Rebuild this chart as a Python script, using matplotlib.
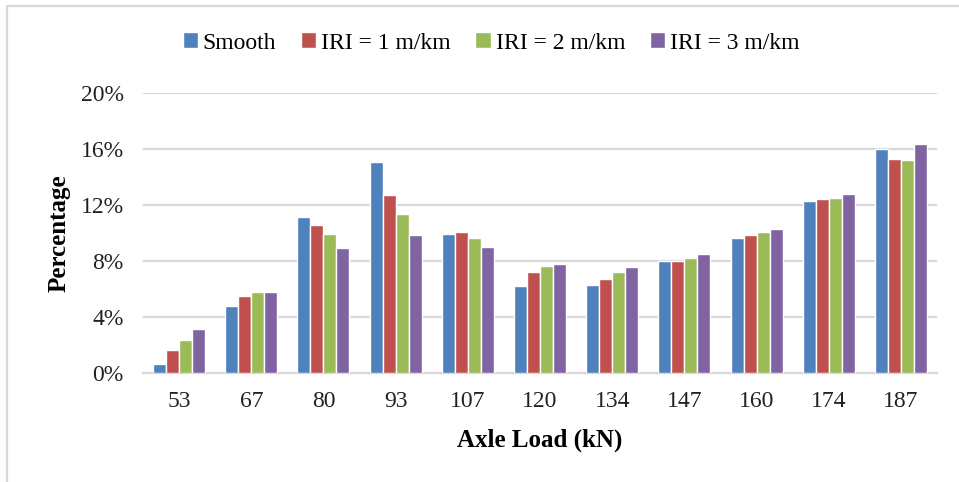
import matplotlib.pyplot as plt
import numpy as np
from matplotlib.patches import Rectangle
from matplotlib.ticker import FuncFormatter

# carichi per asse (kN)
loads = ["53", "67", "80", "93", "107", "120", "134", "147", "160", "174", "187"]

# percentuali
smooth = [0.64, 4.77, 11.12, 15.04, 9.90, 6.23, 6.28, 8.00, 9.64, 12.32, 16.01]
iri1 = [1.62, 5.49, 10.55, 12.70, 10.05, 7.18, 6.75, 8.00, 9.86, 12.43, 15.32]
iri2 = [2.34, 5.82, 9.93, 11.34, 9.67, 7.64, 7.21, 8.21, 10.10, 12.48, 15.23]
iri3 = [3.17, 5.78, 8.90, 9.83, 8.97, 7.78, 7.54, 8.47, 10.26, 12.82, 16.37]

series = [smooth, iri1, iri2, iri3]
labels = ["Smooth", "IRI = 1 m/km", "IRI = 2 m/km", "IRI = 3 m/km"]
colors = ["#4F81BD", "#C0504D", "#9BBB59", "#8064A2"]

plt.rcParams['font.family'] = ['Liberation Serif', 'DejaVu Serif']

fig = plt.figure(figsize=(9.59, 4.82), dpi=100)
W, H = 959, 482
ax = fig.add_axes([143 / W, 1 - 373 / H, (937 - 143) / W, (373 - 93) / H])

x = np.arange(len(loads))
pitch = 0.18
for i, (vals, lab, col) in enumerate(zip(series, labels, colors)):
    ax.bar(x + (i - 1.5) * pitch, vals, width=pitch, color=col,
           edgecolor="white", linewidth=1.0, label=lab, zorder=3)

ax.set_xlim(-0.5, len(loads) - 0.5)
ax.set_ylim(0, 20)
ax.set_yticks([0, 4, 8, 12, 16, 20])
ax.yaxis.set_major_formatter(FuncFormatter(lambda v, p: f"{v:.0f}%"))
ax.set_xticks(x)
ax.set_xticklabels(loads)
ax.tick_params(axis="both", length=0, labelsize=17, colors="#222222")
ax.tick_params(axis="x", pad=13)
ax.tick_params(axis="y", pad=14)

ax.grid(axis="y", color="#d9d9d9", linewidth=1.6, zorder=0)
for s in ["top", "right", "left"]:
    ax.spines[s].set_visible(False)
ax.spines["bottom"].set_color("#d9d9d9")
ax.spines["bottom"].set_linewidth(1.6)

ax.set_ylabel("Percentage", fontsize=18, fontweight="bold", labelpad=7)
ax.set_xlabel("Axle Load (kN)", fontsize=18, fontweight="bold", labelpad=12)

fig.legend(loc="center", bbox_to_anchor=(491 / W, 1 - 43 / H), ncol=4, frameon=False,
           fontsize=17, handlelength=0.65, handleheight=0.65, handletextpad=0.2,
           columnspacing=1.05)

# cornice del grafico
fig.patches.append(Rectangle((7 / W, -0.1), 1.2, 1 - 6 / H + 0.1,
                             transform=fig.transFigure, fill=False,
                             edgecolor="#d9d9d9", linewidth=1.6))

fig.savefig("out.png", dpi=100)
